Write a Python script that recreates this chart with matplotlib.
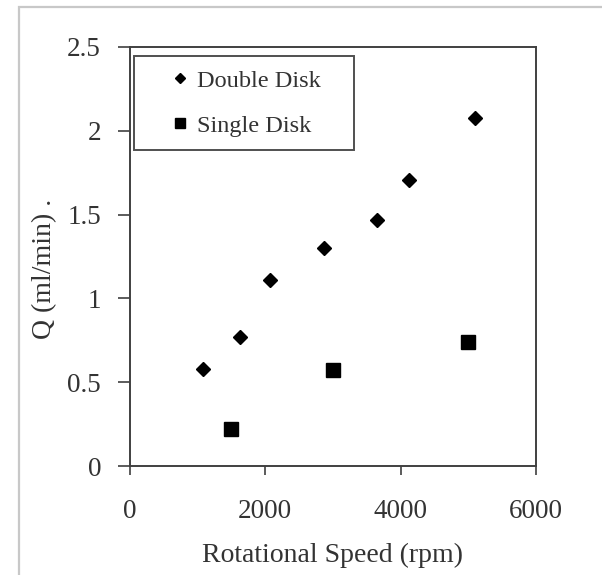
import matplotlib
matplotlib.use("Agg")
import matplotlib.pyplot as plt
from matplotlib.patches import Rectangle

# Flow rate vs rotational speed
double_speed = [1090, 1635, 2075, 2875, 3650, 4125, 5100]
double_flow = [0.577, 0.771, 1.108, 1.299, 1.468, 1.706, 2.075]
single_speed = [1500, 3000, 5000]
single_flow = [0.219, 0.573, 0.742]

x_ticks = [0, 2000, 4000, 6000]
y_ticks = [0, 0.5, 1, 1.5, 2, 2.5]
y_tick_labels = ["0", "0.5", "1", "1.5", "2", "2.5"]

plt.rcParams["font.family"] = ["Liberation Serif", "DejaVu Serif"]

W, H = 602, 575
fig = plt.figure(figsize=(W / 100, H / 100), dpi=100)
fig.patch.set_facecolor("white")

# light frame around the figure area
fig.patches.append(Rectangle((19 / W, -0.05), 1.2, 1 - 7 / H + 0.05,
                             transform=fig.transFigure, fill=False,
                             edgecolor="#c8c8c8", linewidth=1.6, zorder=0))

ax = fig.add_axes([129.5 / W, 1 - 466 / H, 406.5 / W, 419 / H])

ax.plot(double_speed, double_flow, linestyle="none", marker="D",
        markersize=7.5, color="black", label="Double Disk")
ax.plot(single_speed, single_flow, linestyle="none", marker="s",
        markersize=10, color="black", label="Single Disk")

ax.set_xlim(0, 6000)
ax.set_ylim(0, 2.5)
ax.set_xticks(x_ticks)
ax.set_xticklabels([str(v) for v in x_ticks])
ax.set_yticks(y_ticks)
ax.set_yticklabels(y_tick_labels)

spine_color = "#404040"
for s in ax.spines.values():
    s.set_color(spine_color)
    s.set_linewidth(1.4)

ax.tick_params(axis="y", direction="out", length=8.5, width=1.2,
               color=spine_color, labelsize=19.5, labelcolor="#333333", pad=12)
ax.tick_params(axis="x", direction="out", length=6.5, width=1.2,
               color=spine_color, labelsize=19.5, labelcolor="#333333", pad=17)

ax.set_xlabel("Rotational Speed (rpm)", fontsize=20, color="#333333",
              labelpad=14)
ax.set_ylabel("Q (ml/min) .", fontsize=20, color="#333333")
ax.yaxis.set_label_coords(-0.178, 0.47)

leg = ax.legend(loc="upper left",
                bbox_to_anchor=(0.011, 0.761, 0.541, 0.2175),
                mode="expand", fontsize=17.5, frameon=True, fancybox=False,
                framealpha=1, edgecolor="#505050", borderpad=0.56,
                labelspacing=0.95, handlelength=2.7, handletextpad=-0.66,
                borderaxespad=0, markerscale=0.72)
leg.get_frame().set_linewidth(1.4)
for t in leg.get_texts():
    t.set_color("#333333")

fig.savefig("out.png", dpi=100, facecolor="white")
